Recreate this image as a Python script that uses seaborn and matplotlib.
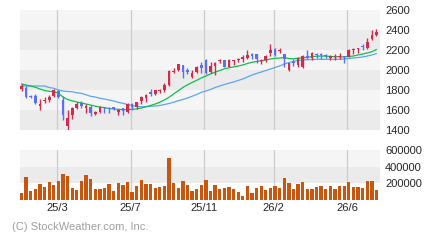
import matplotlib
matplotlib.use('Agg')
import numpy as np
import pandas as pd
import matplotlib.pyplot as plt
import seaborn as sns

# 週足データ（チャートから読み取り）
opens = [1810, 1825, 1742, 1740, 1643, 1695, 1700, 1743, 1793, 1700,
         1440, 1550, 1625, 1667, 1620, 1633, 1560, 1583, 1628, 1622,
         1628, 1585, 1617, 1585, 1660, 1630, 1690, 1717, 1783, 1760,
         1790, 1800, 1850, 1983, 2000, 2050, 1997, 1935, 1985, 2053,
         2105, 1985, 2040, 2090, 2100, 2035, 2090, 2105, 2107, 2117,
         2165, 2160, 2090, 2100, 2167, 2213, 2190, 2160, 2000, 2078,
         2050, 2035, 2137, 2117, 2160, 2155, 2152, 2117, 2130, 2135,
         2140, 2133, 2203, 2212, 2237, 2217, 2310, 2350]
highs = [1865, 1840, 1750, 1760, 1712, 1735, 1750, 1807, 1800, 1740,
         1600, 1633, 1680, 1690, 1660, 1650, 1590, 1640, 1633, 1635,
         1635, 1610, 1625, 1673, 1667, 1685, 1745, 1757, 1815, 1805,
         1815, 1867, 2000, 2017, 2065, 2055, 2020, 2000, 2040, 2083,
         2110, 2080, 2083, 2107, 2103, 2107, 2100, 2117, 2150, 2200,
         2167, 2163, 2107, 2150, 2260, 2217, 2217, 2163, 2070, 2107,
         2127, 2150, 2200, 2177, 2173, 2167, 2160, 2150, 2157, 2167,
         2143, 2207, 2217, 2223, 2260, 2317, 2400, 2410]
lows = [1795, 1720, 1720, 1657, 1600, 1668, 1683, 1733, 1720, 1500,
        1390, 1510, 1610, 1623, 1570, 1543, 1550, 1575, 1575, 1570,
        1605, 1550, 1550, 1567, 1600, 1610, 1660, 1683, 1740, 1750,
        1773, 1783, 1843, 1967, 1993, 1925, 1960, 1925, 1967, 1967,
        1965, 1970, 1955, 2073, 2027, 2027, 2050, 2083, 2083, 2107,
        2107, 2067, 2057, 2083, 2140, 2140, 2167, 2035, 1990, 2043,
        2033, 2023, 2107, 2100, 2117, 2107, 2117, 2100, 2100, 2107,
        2073, 2127, 2160, 2173, 2200, 2207, 2300, 2340]
closes = [1845, 1730, 1735, 1672, 1663, 1702, 1733, 1795, 1735, 1550,
          1523, 1623, 1663, 1645, 1640, 1570, 1583, 1633, 1620, 1615,
          1612, 1605, 1595, 1660, 1635, 1683, 1733, 1750, 1757, 1800,
          1797, 1853, 1990, 1990, 2060, 1980, 1985, 1970, 2033, 2025,
          1975, 2040, 2075, 2097, 2035, 2100, 2095, 2110, 2133, 2150,
          2142, 2107, 2097, 2140, 2200, 2155, 2197, 2107, 2067, 2068,
          2117, 2140, 2130, 2167, 2155, 2148, 2145, 2140, 2135, 2140,
          2133, 2200, 2210, 2218, 2230, 2283, 2355, 2383]

# 移動平均線（チャートから読み取り）
ma_short = [1860, 1850, 1840, 1828, 1810, 1795, 1787, 1783, 1768, 1730,
            1705, 1692, 1680, 1670, 1660, 1650, 1638, 1630, 1622, 1615,
            1610, 1607, 1603, 1605, 1607, 1610, 1620, 1633, 1645, 1660,
            1678, 1700, 1727, 1760, 1793, 1825, 1852, 1875, 1897, 1920,
            1940, 1960, 1978, 1995, 2012, 2022, 2030, 2040, 2050, 2065,
            2077, 2085, 2092, 2100, 2110, 2117, 2120, 2125, 2115, 2112,
            2117, 2122, 2127, 2133, 2138, 2140, 2138, 2135, 2133, 2133,
            2130, 2135, 2140, 2150, 2160, 2170, 2183, 2205]
ma_long = [1840, 1840, 1840, 1840, 1840, 1840, 1825, 1817, 1800, 1790,
           1785, 1783, 1772, 1767, 1752, 1737, 1730, 1717, 1710, 1700,
           1690, 1677, 1667, 1655, 1645, 1635, 1633, 1633, 1637, 1640,
           1645, 1655, 1665, 1678, 1692, 1705, 1720, 1737, 1755, 1777,
           1790, 1805, 1825, 1840, 1855, 1868, 1880, 1895, 1910, 1930,
           1950, 1965, 1980, 1995, 2010, 2025, 2040, 2060, 2075, 2085,
           2095, 2100, 2103, 2105, 2107, 2107, 2107, 2107, 2107, 2107,
           2110, 2115, 2120, 2125, 2130, 2140, 2150, 2165]

volume = [88000, 280000, 112000, 136000, 196000, 160000, 220000, 184000, 232000, 316000,
          292000, 148000, 124000, 232000, 304000, 256000, 136000, 136000, 148000, 196000,
          112000, 208000, 184000, 220000, 100000, 172000, 244000, 196000, 196000, 148000,
          160000, 172000, 508000, 208000, 148000, 232000, 184000, 112000, 136000, 184000,
          244000, 112000, 184000, 136000, 148000, 160000, 136000, 100000, 52000, 172000,
          88000, 148000, 172000, 124000, 148000, 172000, 148000, 268000, 208000, 136000,
          196000, 220000, 136000, 136000, 160000, 172000, 136000, 172000, 136000, 172000,
          172000, 220000, 160000, 160000, 148000, 232000, 232000, 124000]

month_pos = [8, 24, 40, 55, 71]
month_labels = ['25/3', '25/7', '25/11', '26/2', '26/6']
price_ticks = [1400, 1600, 1800, 2000, 2200, 2400, 2600]
vol_ticks = [200000, 400000, 600000]
vol_labels = ['200000', '400000', '600000']

df = pd.DataFrame({'open': opens, 'high': highs, 'low': lows, 'close': closes,
                   'ma13': ma_short, 'ma26': ma_long, 'vol': volume})
df['idx'] = np.arange(len(df))

sns.set_style('white')
plt.rcParams['font.family'] = ['Liberation Sans', 'DejaVu Sans']

UP = '#d42a4c'
DOWN = '#5b6ef5'
GRID = '#cccccc'
XL = (-0.33, 77.77)

fig = plt.figure(figsize=(4.4, 2.4), dpi=100)
ax = fig.add_axes([20 / 440, 1 - 130 / 240, 360 / 440, 120 / 240])
axv = fig.add_axes([20 / 440, 1 - 200 / 240, 360 / 440, 50 / 240])

# 背景の帯
for k, lo in enumerate(range(1400, 2600, 200)):
    ax.axhspan(lo, lo + 200, color='#ebebeb' if k % 2 == 0 else '#f5f5f5', lw=0, zorder=0)
axv.axhspan(200000, 400000, color='#ebebeb', lw=0, zorder=0)
axv.axhspan(400000, 600000, color='#f5f5f5', lw=0, zorder=0)

for p in month_pos:
    ax.axvline(p - 0.33, color=GRID, lw=0.9, zorder=1)
    axv.axvline(p - 0.33, color=GRID, lw=0.9, zorder=1)

# 移動平均
sns.lineplot(data=df, x='idx', y='ma26', ax=ax, color='#5aa5f5', lw=0.9, zorder=2)
sns.lineplot(data=df, x='idx', y='ma13', ax=ax, color='#0cc04c', lw=0.9, zorder=2)

# ローソク足
colors = [UP if c >= o else DOWN for o, c in zip(df['open'], df['close'])]
ax.vlines(df['idx'], df['low'], df['high'], colors=colors, lw=1, zorder=3)
body_lo = np.minimum(df['open'], df['close'])
body_h = np.maximum(np.abs(df['close'] - df['open']), 8)
ax.bar(df['idx'], body_h, bottom=body_lo, width=0.58, color=colors, lw=0, zorder=4)

ax.set_xlim(*XL)
ax.set_ylim(1400, 2600)
ax.set_xticks([])
ax.set_yticks(price_ticks)
ax.yaxis.tick_right()
ax.tick_params(axis='y', length=0, pad=3.6, labelsize=8)
ax.set_xlabel('')
ax.set_ylabel('')
for s in ax.spines.values():
    s.set_visible(False)

# 出来高
sns.barplot(data=df, x='idx', y='vol', ax=axv, color='#c8560f', saturation=1,
            width=0.72, linewidth=0, edgecolor='none', zorder=3)
axv.set_xlim(*XL)
axv.set_ylim(0, 600000)
axv.set_xticks([p - 0.33 for p in month_pos])
axv.set_xticklabels(month_labels)
axv.set_yticks(vol_ticks)
axv.set_yticklabels(vol_labels)
axv.yaxis.tick_right()
axv.tick_params(axis='y', length=0, pad=3.6, labelsize=8)
axv.tick_params(axis='x', length=0, pad=2.5, labelsize=8)
axv.set_xlabel('')
axv.set_ylabel('')
for s in axv.spines.values():
    s.set_visible(False)

fig.text(12 / 440, 1 - 227 / 240, '(C) StockWeather.com, Inc.', color='#a0a0a0',
         fontsize=8, va='center', ha='left')

fig.savefig('out.png', dpi=100, facecolor='white')
